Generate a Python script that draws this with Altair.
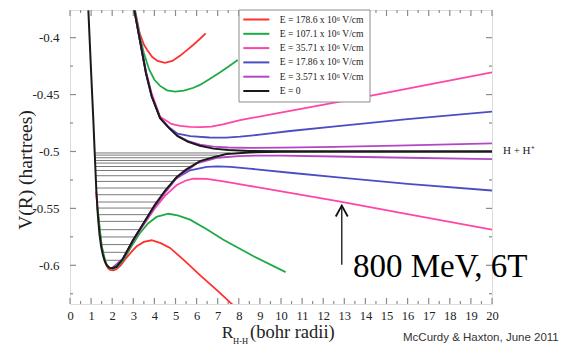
import altair as alt
import pandas as pd

# ---------------- data ----------------
labels = ["E = 178.6 x 10⁶ V/cm", "E = 107.1 x 10⁶ V/cm", "E = 35.71 x 10⁶ V/cm",
          "E = 17.86 x 10⁶ V/cm", "E = 3.571 x 10⁶ V/cm", "E = 0"]
colors = ["#ff3030", "#1faa48", "#ff45a8", "#4a4ec4", "#b247c4", "#1a1a1a"]

# E = 178.6
red_up_R = [3.08, 3.3, 3.5, 3.66, 3.9, 4.15, 4.5, 4.85, 5.21, 5.53, 5.85, 6.15, 6.43]
red_up_V = [-0.376, -0.396, -0.406, -0.4108, -0.417, -0.4205, -0.4222, -0.4205, -0.4160, -0.4112, -0.4062, -0.4012, -0.3963]
red_lo_R = [1.24, 1.3, 1.4, 1.5, 1.6, 1.7, 1.8, 1.9, 2.05, 2.2, 2.4, 2.6, 2.9, 3.16, 3.5, 3.87, 4.3, 4.74, 5.4, 6.16, 7.0, 7.7]
red_lo_V = [-0.535, -0.549, -0.568, -0.583, -0.5925, -0.5985, -0.6025, -0.6040, -0.6044, -0.6035, -0.6000, -0.5950, -0.5885, -0.5833, -0.5795, -0.5780, -0.5805, -0.5847, -0.5955, -0.6086, -0.6225, -0.6345]
# E = 107.1
grn_up_R = [3.08, 3.3, 3.5, 3.75, 4.0, 4.27, 4.6, 4.98, 5.4, 5.85, 6.16, 6.6, 7.1, 7.5, 7.95]
grn_up_V = [-0.376, -0.398, -0.4135, -0.428, -0.437, -0.4424, -0.4463, -0.4474, -0.4466, -0.4440, -0.4415, -0.4365, -0.4307, -0.4255, -0.4197]
grn_lo_R = [1.3, 1.5, 1.7, 1.85, 2.05, 2.3, 2.6, 2.92, 3.3, 3.71, 4.1, 4.66, 5.1, 5.69, 6.5, 7.27, 8.7, 10.22]
grn_lo_V = [-0.549, -0.583, -0.5985, -0.6020, -0.6033, -0.6005, -0.5935, -0.5830, -0.5720, -0.5630, -0.5575, -0.5547, -0.5562, -0.5599, -0.5685, -0.5775, -0.5920, -0.6060]
# E = 35.71
pnk_up_R = [3.05, 3.32, 3.6, 3.87, 4.27, 4.8, 5.21, 5.7, 6.2, 6.7, 7.3, 8.06, 10.43, 12.8, 16.0, 20.0]
pnk_up_V = [-0.376, -0.4025, -0.4295, -0.449, -0.4695, -0.4758, -0.4775, -0.4783, -0.4786, -0.4781, -0.4760, -0.4725, -0.4643, -0.4561, -0.4448, -0.4304]
pnk_lo_R = [2.0, 2.5, 3.0, 3.47, 4.0, 4.5, 5.06, 5.5, 5.85, 6.48, 7.27, 8.5, 10.43, 12.68, 16.0, 20.0]
pnk_lo_V = [-0.6027, -0.5948, -0.5782, -0.5650, -0.5505, -0.5390, -0.5295, -0.5255, -0.5238, -0.5240, -0.5263, -0.5302, -0.5363, -0.5436, -0.5550, -0.5687]
# E = 17.86
blu_up_R = [3.05, 3.32, 3.6, 3.87, 4.27, 4.7, 5.1, 5.7, 6.6, 7.4, 8.06, 9.0, 10.43, 12.7, 16.0, 20.0]
blu_up_V = [-0.376, -0.403, -0.431, -0.4515, -0.4705, -0.479, -0.4843, -0.4866, -0.4877, -0.4878, -0.4870, -0.4852, -0.4820, -0.4777, -0.4716, -0.4649]
blu_lo_R = [2.0, 2.5, 3.0, 3.47, 4.0, 4.5, 5.0, 5.69, 6.48, 7.0, 7.6, 8.5, 10.43, 12.7, 16.0, 20.0]
blu_lo_V = [-0.6026, -0.5946, -0.5778, -0.5640, -0.5485, -0.5360, -0.5240, -0.5165, -0.5135, -0.5131, -0.5135, -0.5150, -0.5187, -0.5228, -0.5285, -0.5343]
# E = 3.571
pur_up_R = [3.05, 3.32, 3.6, 3.87, 4.27, 4.7, 5.1, 5.6, 6.16, 6.8, 7.5, 8.5, 10.0, 12.56, 16.0, 20.0]
pur_up_V = [-0.376, -0.403, -0.431, -0.4515, -0.4707, -0.4795, -0.4862, -0.4908, -0.4940, -0.4958, -0.4965, -0.4968, -0.4966, -0.4960, -0.4946, -0.4929]
pur_lo_R = [2.0, 2.5, 3.0, 3.47, 4.0, 5.0, 6.0, 7.0, 8.0, 9.0, 10.0, 12.56, 16.0, 20.0]
pur_lo_V = [-0.6026, -0.5945, -0.5776, -0.5636, -0.5478, -0.5245, -0.5105, -0.5055, -0.5040, -0.5036, -0.5037, -0.5044, -0.5055, -0.5067]
# E = 0
blk_up_R = [3.05, 3.32, 3.6, 3.87, 4.27, 4.7, 5.1, 5.6, 6.16, 6.8, 7.5, 8.5, 10.0, 12.0, 20.0]
blk_up_V = [-0.376, -0.403, -0.431, -0.4515, -0.4707, -0.4795, -0.4865, -0.4915, -0.4950, -0.4975, -0.4988, -0.4995, -0.4999, -0.5000, -0.5000]
blk_lo_R = [0.87, 1.0, 1.1, 1.18, 1.25, 1.32, 1.4, 1.48, 1.56, 1.65, 1.75, 1.87, 2.0, 2.2, 2.5, 3.0, 3.47, 4.0, 4.5, 5.06, 5.5, 6.16, 6.8, 7.42, 8.5, 10.0, 12.0, 20.0]
blk_lo_V = [-0.376, -0.43, -0.47, -0.505, -0.535, -0.556, -0.573, -0.584, -0.591, -0.5965, -0.6002, -0.6021, -0.6026, -0.6013, -0.5945, -0.5775, -0.5635, -0.5475, -0.5345, -0.5225, -0.5160, -0.5085, -0.5050, -0.5022, -0.5008, -0.5003, -0.5001, -0.5000]

# vibrational levels: energy, left and right turning points
lev_V = [-0.5956, -0.5886, -0.5818, -0.5751, -0.5687, -0.5614, -0.5555, -0.5497, -0.5444, -0.5380,
         -0.5321, -0.5263, -0.5213, -0.5167, -0.5132, -0.5102, -0.5079, -0.5055, -0.5032, -0.5013]
lev_R1 = [1.64, 1.52, 1.44, 1.39, 1.35, 1.31, 1.29, 1.27, 1.25, 1.235,
          1.22, 1.21, 1.2, 1.195, 1.19, 1.187, 1.185, 1.183, 1.181, 1.18]
lev_R2 = [2.45, 2.67, 2.87, 3.08, 3.29, 3.54, 3.75, 3.93, 4.12, 4.37,
          4.60, 4.88, 5.14, 5.45, 5.72, 6.0, 6.26, 6.6, 7.0, 7.6]

# axis ticks
x_major = list(range(0, 21))
x_minor = [i + 0.5 for i in range(20)]
y_major = [-0.6, -0.55, -0.5, -0.45, -0.4]
y_minor = [-0.625, -0.575, -0.525, -0.475, -0.425]

# annotations
arrow_R = [12.88]
arrow_V_tip = [-0.5476]
arrow_V_base = [-0.5995]
note_text = ["800 MeV, 6T"]
note_R = [13.41]
note_V = [-0.6100]

# ---------------- build tables ----------------
curves = [
    (labels[0], red_up_R, red_up_V, red_lo_R, red_lo_V),
    (labels[1], grn_up_R, grn_up_V, grn_lo_R, grn_lo_V),
    (labels[2], pnk_up_R, pnk_up_V, pnk_lo_R, pnk_lo_V),
    (labels[3], blu_up_R, blu_up_V, blu_lo_R, blu_lo_V),
    (labels[4], pur_up_R, pur_up_V, pur_lo_R, pur_lo_V),
    (labels[5], blk_up_R, blk_up_V, blk_lo_R, blk_lo_V),
]
rows = []
for lab, ur, uv, lr, lv in curves:
    for r, v in zip(ur, uv):
        rows.append({"series": lab, "branch": "u", "R": r, "V": v})
    for r, v in zip(lr, lv):
        rows.append({"series": lab, "branch": "l", "R": r, "V": v})
df = pd.DataFrame(rows)
df_col = df[df.series != labels[5]]
df_blk = df[df.series == labels[5]]
df_lev = pd.DataFrame({"V": lev_V, "R1": lev_R1, "R2": lev_R2})

W, H = 422, 294
SERIF = "Liberation Serif, Times New Roman, serif"
FRAME = "#8c8c8c"

xs = alt.Scale(domain=[0, 20], nice=False, zero=False)
ys = alt.Scale(domain=[-0.634, -0.3757], nice=False, zero=False)
x_ax = alt.Axis(values=x_major, ticks=False, domain=False, grid=False, labelFont=SERIF,
                labelFontSize=12.5, labelColor="#222", labelPadding=5, tickSize=0, title=None,
                labelOverlap=False, labelFlush=False)
y_ax = alt.Axis(values=y_major, ticks=False, domain=False, grid=False, labelFont=SERIF,
                labelFontSize=13, labelColor="#222", labelPadding=11, tickSize=0, title=None,
                labelFlush=False, labelOverlap=False,
                labelExpr="'-' + format(abs(datum.value), '')")

def X(f):
    return alt.X(f, scale=xs, axis=x_ax)

def Y(f):
    return alt.Y(f, scale=ys, axis=y_ax)

legend = alt.Legend(
    title=None, orient="none", legendX=168.5, legendY=-0.5,
    symbolType="M-3.25,0L3.25,0", symbolSize=64, symbolStrokeWidth=2,
    symbolOffset=7.8, labelOffset=18.5, padding=5, rowPadding=4.3,
    labelFont=SERIF, labelFontSize=9.6, labelColor="#222",
    fillColor="white", strokeColor=FRAME, cornerRadius=0,
)
color = alt.Color("series:N", scale=alt.Scale(domain=labels, range=colors), legend=legend)

levels = alt.Chart(df_lev).mark_rule(color="#6a6a6a", strokeWidth=0.9).encode(
    x=X("R1:Q"), x2="R2:Q", y=Y("V:Q"),
)
col_lines = alt.Chart(df_col).mark_line(strokeWidth=1.8, clip=True).encode(
    x=X("R:Q"), y=Y("V:Q"), color=color, detail="branch:N",
)
blk_lines = alt.Chart(df_blk).mark_line(strokeWidth=2, clip=True).encode(
    x=X("R:Q"), y=Y("V:Q"), color=color, detail="branch:N",
)

def tick_layer(vals, axis, pos, pos2):
    d = pd.DataFrame({"t": vals})
    m = alt.Chart(d).mark_rule(color=FRAME, strokeWidth=1.2)
    if axis == "x":
        return m.encode(x=X("t:Q"), y=alt.value(pos), y2=alt.value(pos2))
    return m.encode(y=Y("t:Q"), x=alt.value(pos), x2=alt.value(pos2))

ticks = [
    tick_layer(x_major, "x", H, H - 6), tick_layer(x_minor, "x", H, H - 3),
    tick_layer(x_major, "x", 0, 6), tick_layer(x_minor, "x", 0, 3),
    tick_layer(y_major, "y", 0, 6), tick_layer(y_minor, "y", 0, 3),
    tick_layer(y_major, "y", W, W - 6), tick_layer(y_minor, "y", W, W - 3),
]

arrow_df = pd.DataFrame({"R": arrow_R, "Vt": arrow_V_tip, "Vb": arrow_V_base})
shaft = alt.Chart(arrow_df).mark_rule(color="#222", strokeWidth=1.4).encode(
    x=X("R:Q"), y=Y("Vt:Q"), y2="Vb:Q")
head = alt.Chart(arrow_df).mark_point(shape="M-1,1.8L0,0L1,1.8", filled=False, size=144,
                                      strokeWidth=1.8, color="#111", opacity=1).encode(
    x=X("R:Q"), y=Y("Vt:Q"))
note = alt.Chart(pd.DataFrame({"t": note_text, "R": note_R, "V": note_V})).mark_text(
    font=SERIF, fontSize=33, align="left", baseline="alphabetic", color="#000").encode(
    x=X("R:Q"), y=Y("V:Q"), text="t:N")

hh = alt.Chart(pd.DataFrame({"t": ["H + H⁺"], "R": [20.52], "V": [-0.5]})).mark_text(
    font=SERIF, fontSize=11, align="left", baseline="middle", color="#222").encode(
    x=X("R:Q"), y=Y("V:Q"), text="t:N")

def label(txt, x, y, size, font=SERIF, angle=0, align="left", baseline="alphabetic", color="#222"):
    return alt.Chart(pd.DataFrame({"t": [txt]})).mark_text(
        font=font, fontSize=size, align=align, baseline=baseline, angle=angle, color=color
    ).encode(x=alt.value(x), y=alt.value(y), text="t:N")

titles = [
    label("R", 151.7, 328.3, 17.5),
    label("H-H", 163.0, 333.5, 8.5),
    label("(bohr radii)", 180.0, 328.3, 18.5),
    label("V(R) (hartrees)", -44, 160.0, 19.5, angle=270, align="center", baseline="middle"),
    label("McCurdy & Haxton, June 2011", 333, 331, 11.5, font="Liberation Sans, Arial, sans-serif", color="#333"),
]

chart = alt.layer(levels, *ticks, col_lines, blk_lines, shaft, head, note, hh, *titles).properties(
    width=W, height=H,
    autosize=alt.AutoSizeParams(type="none"),
    padding={"left": 62, "top": 2, "right": 80, "bottom": 40},
).configure_view(stroke=FRAME, strokeWidth=1.5).configure(font=SERIF)

chart.save("out.html", embed_options={"renderer": "svg", "actions": False})
